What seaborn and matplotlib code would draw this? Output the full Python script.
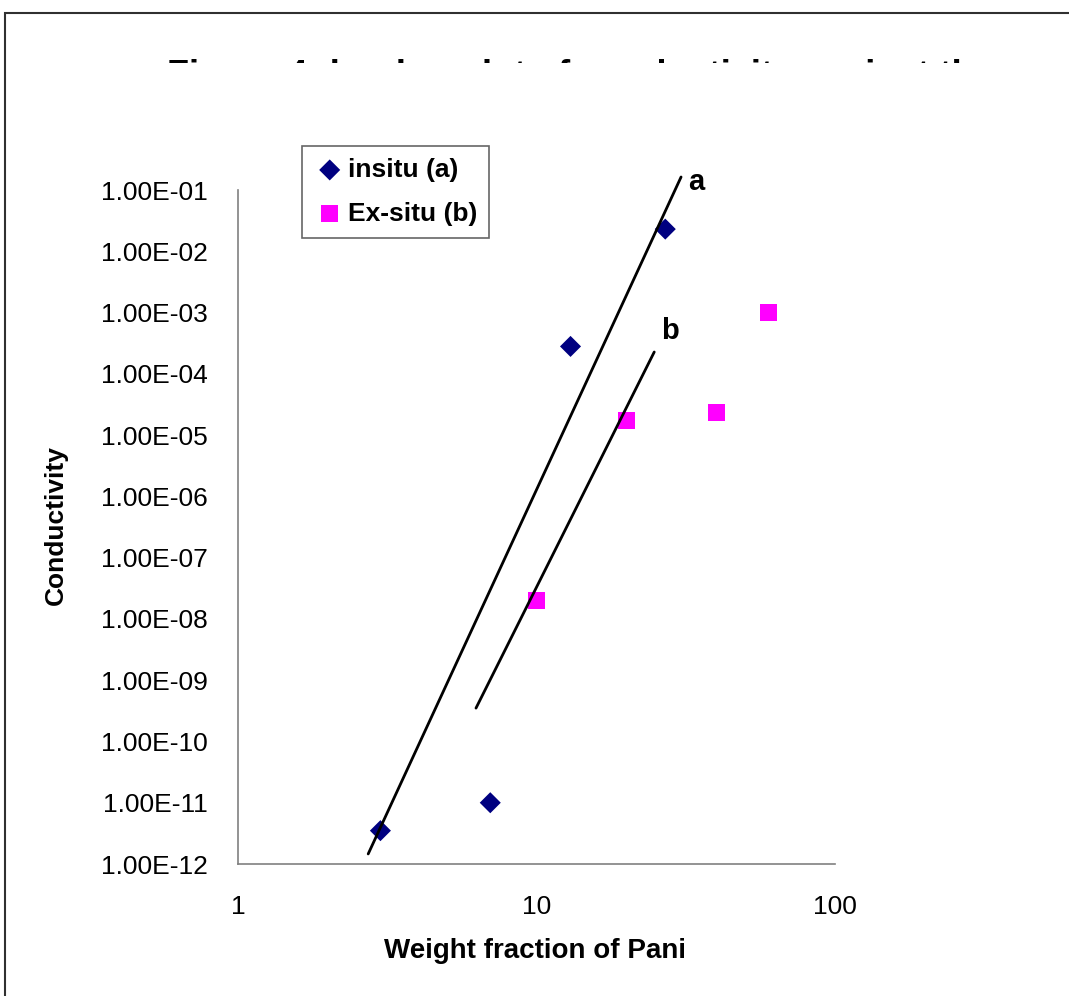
import matplotlib
matplotlib.use("Agg")
import matplotlib.pyplot as plt
import seaborn as sns
import numpy as np
import pandas as pd
from matplotlib.ticker import FixedLocator, FixedFormatter, NullLocator
from matplotlib.patches import Rectangle

# ---- data ----
insitu_x = [3, 7, 13, 27]
insitu_y = [3.5e-12, 1.0e-11, 2.8e-4, 2.3e-2]
exsitu_x = [10, 20, 40, 60]
exsitu_y = [2.0e-8, 1.75e-5, 2.3e-5, 1.0e-3]
fit_a_x = [2.73, 30.5]
fit_a_y = [1.46e-12, 0.163]
fit_b_x = [6.27, 24.8]
fit_b_y = [3.5e-10, 2.27e-4]
y_ticks = [1e-12, 1e-11, 1e-10, 1e-9, 1e-8, 1e-7, 1e-6, 1e-5, 1e-4, 1e-3, 1e-2, 1e-1]
y_tick_labels = ["1.00E-12", "1.00E-11", "1.00E-10", "1.00E-09", "1.00E-08", "1.00E-07",
                 "1.00E-06", "1.00E-05", "1.00E-04", "1.00E-03", "1.00E-02", "1.00E-01"]
x_ticks = [1, 10, 100]
x_tick_labels = ["1", "10", "100"]
title_text = "Figure 4: log-log plot of conductivity against the"

sns.set_style("white")
plt.rcParams['font.family'] = ['Liberation Sans', 'DejaVu Sans']
plt.rcParams['text.color'] = 'black'
plt.rcParams['axes.labelcolor'] = 'black'
plt.rcParams['xtick.color'] = 'black'
plt.rcParams['ytick.color'] = 'black'

W, H = 1069, 996
fig = plt.figure(figsize=(W / 100, H / 100), dpi=100)
ax = fig.add_axes([238 / W, 1 - 864 / H, (835 - 238) / W, (864 - 190) / H])

df_pts = pd.DataFrame({
    "x": insitu_x + exsitu_x,
    "y": insitu_y + exsitu_y,
    "series": ["insitu (a)"] * len(insitu_x) + ["Ex-situ (b)"] * len(exsitu_x),
})
sns.scatterplot(data=df_pts[df_pts.series == "insitu (a)"], x="x", y="y", ax=ax,
                marker="D", s=115, color="#000080", edgecolor="none",
                label="insitu (a)", zorder=3)
sns.scatterplot(data=df_pts[df_pts.series == "Ex-situ (b)"], x="x", y="y", ax=ax,
                marker="s", s=150, color="#FF00FF", edgecolor="none",
                label="Ex-situ (b)", zorder=3)

df_a = pd.DataFrame({"x": fit_a_x, "y": fit_a_y})
df_b = pd.DataFrame({"x": fit_b_x, "y": fit_b_y})
sns.lineplot(data=df_a, x="x", y="y", ax=ax, color="black", lw=2, sort=False,
             legend=False, zorder=4)
sns.lineplot(data=df_b, x="x", y="y", ax=ax, color="black", lw=2, sort=False,
             legend=False, zorder=4)
for ln in ax.get_lines():
    ln.set_clip_on(False)

ax.set_xscale("log")
ax.set_yscale("log")
ax.set_xlim(1, 100)
ax.set_ylim(1e-12, 1e-1)

ax.xaxis.set_major_locator(FixedLocator(x_ticks))
ax.xaxis.set_major_formatter(FixedFormatter(x_tick_labels))
ax.xaxis.set_minor_locator(NullLocator())
ax.yaxis.set_major_locator(FixedLocator(y_ticks))
ax.yaxis.set_major_formatter(FixedFormatter(y_tick_labels))
ax.yaxis.set_minor_locator(NullLocator())

for side in ["top", "right"]:
    ax.spines[side].set_visible(False)
for side in ["left", "bottom"]:
    ax.spines[side].set_color("#808080")
    ax.spines[side].set_linewidth(1.2)

ax.tick_params(axis="both", direction="out", length=5, width=1.2, color="#808080",
               labelsize=19, labelcolor="black")
ax.tick_params(axis="y", pad=17)
ax.tick_params(axis="x", pad=17)
ax.grid(False)

ax.set_xlabel("Weight fraction of Pani", fontsize=20, fontweight="bold", color="black")
ax.set_ylabel("Conductivity", fontsize=19, fontweight="bold", color="black")
ax.xaxis.set_label_coords((535 - 238) / 597, (864 - 938) / 674)
ax.yaxis.set_label_coords((68 - 238) / 597, (864 - 525) / 674)

ax.text(34.2, 0.135, "a", fontsize=21, fontweight="bold", ha="center", va="center",
        color="black")
ax.text(28.0, 5.0e-4, "b", fontsize=21, fontweight="bold", ha="center", va="center",
        color="black")

leg = ax.legend(loc="upper left", bbox_to_anchor=(302 / W, 1 - 146 / H),
                bbox_transform=fig.transFigure, fontsize=19, frameon=True,
                fancybox=False, borderpad=0.45, handletextpad=0.1,
                labelspacing=0.75, borderaxespad=0, handlelength=1.2)
leg.get_frame().set_edgecolor("#404040")
leg.get_frame().set_linewidth(1.2)
for t in leg.get_texts():
    t.set_fontweight("bold")
    t.set_color("black")

# Title: only the very top of the letters shows, as in the reference
fig.text(580 / W, 1 - 86 / H, title_text, fontsize=26, fontweight="bold",
         ha="center", va="baseline", color="black", zorder=1)
cover = Rectangle((6 / W, 1 - 135 / H), 1.0, (135 - 63) / H, transform=fig.transFigure,
                  facecolor="white", edgecolor="none", zorder=20)
fig.add_artist(cover)

# Outer chart frame
frame = Rectangle((4.5 / W, -0.5), 2.0, 1.5 - 13.5 / H, transform=fig.transFigure,
                  fill=False, edgecolor="#303030", lw=1.5, clip_on=False, zorder=30)
fig.add_artist(frame)

fig.savefig("out.png", dpi=100)
